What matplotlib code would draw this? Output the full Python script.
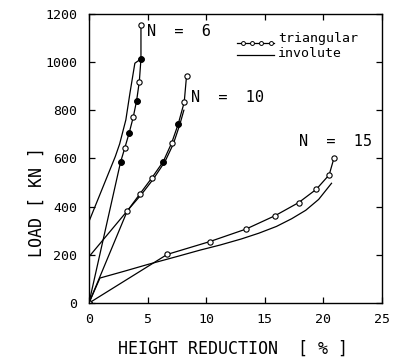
import matplotlib
matplotlib.use("Agg")
import matplotlib.pyplot as plt

# triangular profile, N = 6 / 10 / 15  (height reduction %, load kN)
tri6_x = [0.0, 2.70, 3.07, 3.44, 3.78, 4.07, 4.30, 4.44, 4.44]
tri6_y = [0, 585, 645, 707, 771, 840, 919, 1013, 1155]
tri6_fill = [False, True, False, True, False, True, False, True, False]

tri10_x = [0.0, 3.27, 4.35, 5.35, 6.34, 7.05, 7.62, 8.13, 8.33]
tri10_y = [0, 382, 453, 518, 587, 663, 743, 833, 943]
tri10_fill = [False, False, False, False, True, False, True, False, False]

tri15_x = [0.0, 6.68, 10.3, 13.4, 15.9, 17.9, 19.4, 20.5, 20.9]
tri15_y = [0, 202, 255, 307, 363, 417, 472, 532, 600]
tri15_fill = [False] * 9

# involute profile
inv6_x = [0.0, 2.25, 2.62, 3.15, 3.50, 3.80, 3.92, 4.44]
inv6_y = [338, 608, 660, 760, 871, 960, 995, 1013]

inv10_x = [0.0, 3.4, 4.5, 5.5, 6.5, 7.2, 7.75, 8.1]
inv10_y = [192, 390, 452, 515, 588, 660, 740, 800]

inv15_x = [0.0, 0.94, 3.0, 5.0, 7.5, 9.5, 11.2, 13.0, 14.5, 16.0, 17.3, 18.5, 19.6, 20.7]
inv15_y = [0, 104, 132, 160, 193, 220, 241, 266, 290, 318, 350, 385, 430, 497]

x_ticks = [0, 5, 10, 15, 20, 25]
y_ticks = [0, 200, 400, 600, 800, 1000, 1200]

plt.rcParams["font.family"] = "DejaVu Sans Mono"

fig = plt.figure(figsize=(3.97, 3.63), dpi=100)
ax = fig.add_axes([0.224, 0.165, 0.738, 0.797])

for xs, ys in [(inv6_x, inv6_y), (inv10_x, inv10_y), (inv15_x, inv15_y)]:
    ax.plot(xs, ys, color="black", lw=0.9)

for xs, ys, fl in [(tri6_x, tri6_y, tri6_fill), (tri10_x, tri10_y, tri10_fill),
                   (tri15_x, tri15_y, tri15_fill)]:
    ax.plot(xs, ys, color="black", lw=0.9, marker="o", ms=3.8,
            mfc="white", mec="black", mew=0.8)
    fx = [x for x, f in zip(xs, fl) if f]
    fy = [y for y, f in zip(ys, fl) if f]
    ax.plot(fx, fy, ls="none", marker="o", ms=3.8, mfc="black", mec="black")

ax.text(4.95, 1125, "N  =  6", fontsize=11, va="center", ha="left")
ax.text(8.75, 852, "N  =  10", fontsize=11, va="center", ha="left")
ax.text(17.9, 672, "N  =  15", fontsize=11, va="center", ha="left")

# hand-made legend (top right)
ax.plot([0.505, 0.63], [0.899, 0.899], transform=ax.transAxes, color="black",
        lw=0.9)
ax.plot([0.525, 0.555, 0.587, 0.62], [0.899] * 4, transform=ax.transAxes,
        ls="none", marker="o", ms=2.8, mfc="white", mec="black", mew=0.7)
ax.plot([0.505, 0.63], [0.857, 0.857], transform=ax.transAxes, color="black",
        lw=0.9)
ax.text(0.645, 0.913, "triangular", transform=ax.transAxes, fontsize=9.5,
        va="center", ha="left")
ax.text(0.645, 0.862, "involute", transform=ax.transAxes, fontsize=9.5,
        va="center", ha="left")

ax.set_xlim(0, 25)
ax.set_ylim(0, 1200)
ax.set_xticks(x_ticks)
ax.set_yticks(y_ticks)
ax.tick_params(direction="in", top=True, right=True, length=4, width=0.9,
               labelsize=9.5)
ax.tick_params(axis="x", pad=7)
ax.tick_params(axis="y", pad=8.5)
for sp in ax.spines.values():
    sp.set_linewidth(1.0)

fig.text(233 / 397, 1 - 349 / 363, "HEIGHT REDUCTION  [ % ]", fontsize=12,
         ha="center", va="center")
fig.text(37 / 397, 1 - 202 / 363, "LOAD [ KN ]", fontsize=12, rotation=90,
         ha="center", va="center")

fig.savefig("out.png", dpi=100)
